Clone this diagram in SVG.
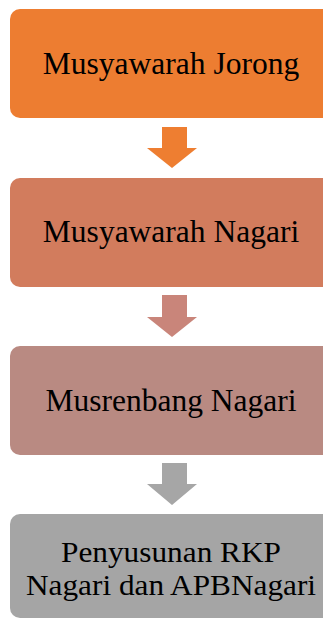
<svg xmlns="http://www.w3.org/2000/svg" width="323" height="619" viewBox="0 0 323 619">
<style>
text{font-family:"Liberation Serif","Times New Roman","DejaVu Serif",serif;font-size:31.5px;fill:#000;text-anchor:middle}
.two{font-size:29.5px}
</style>
<rect width="323" height="619" fill="#fff"/>
<g id="connectors">
<polygon points="162,127 187,127 187,148 197,148 172,168 147,148 162,148" fill="#EE7E31"/>
<polygon points="162,295 187,295 187,317 197,317 172,337 147,317 162,317" fill="#C9857A"/>
<polygon points="162,463 187,463 187,484 197,484 172,505 147,484 162,484" fill="#A6A6A6"/>
</g>
<g id="node1">
<rect x="10" y="9" width="323" height="109" rx="10" fill="#ED7D31"/>
<text x="171" y="74">Musyawarah Jorong</text>
</g>
<g id="node2">
<rect x="10" y="178" width="323" height="109" rx="10" fill="#D27C5D"/>
<text x="171" y="242">Musyawarah Nagari</text>
</g>
<g id="node3">
<rect x="10" y="346" width="323" height="109" rx="10" fill="#B98A82"/>
<text x="171" y="411">Musrenbang Nagari</text>
</g>
<g id="node4">
<rect x="10" y="514" width="323" height="104" rx="10" fill="#A5A5A5"/>
<text class="two" x="171" y="562" textLength="220" lengthAdjust="spacingAndGlyphs">Penyusunan RKP</text>
<text class="two" x="171" y="595" textLength="290" lengthAdjust="spacingAndGlyphs">Nagari dan APBNagari</text>
</g>
</svg>
